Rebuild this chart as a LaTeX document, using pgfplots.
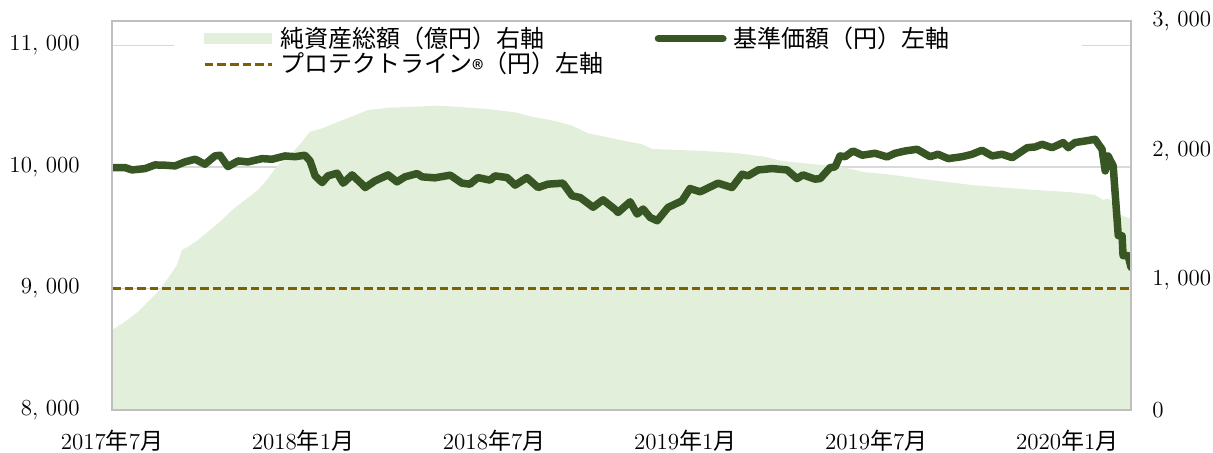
\documentclass[border=0pt]{standalone}
\usepackage{pgfplots}
\pgfplotsset{compat=1.18}
\usepackage{fontspec}
\newfontfamily\jp{Noto Sans CJK JP}
\definecolor{areacol}{HTML}{E2EFDA}
\definecolor{linecol}{HTML}{375623}
\definecolor{dashcol}{HTML}{7F6000}
\definecolor{framecol}{HTML}{BFBFBF}
\definecolor{gridcol}{HTML}{D9D9D9}
\newcommand\tickfont{\fontsize{11.5}{13}\selectfont}
\newcommand\legfont{\jp\fontsize{12}{14.5}\selectfont}
\begin{document}
\begin{tikzpicture}
\pgfplotsset{every axis/.append style={width=509.5pt,height=194.5pt,scale only axis,
  at={(0,0)},anchor=south west,xmin=0,xmax=32,
  scaled y ticks=false, scaled x ticks=false,
  major tick length=0pt, minor tick length=0pt,
  ticklabel style={font=\tickfont}}}
% axis 1: left ticks + grid
\begin{axis}[ymin=8000,ymax=11200,
  ytick={8000,9000,10000,11000},
  yticklabels={{8, 000},{9, 000},{10, 000},{11, 000}},
  ymajorgrids, grid style={gridcol,line width=0.75pt},
  xtick={0,6,12,18,24,30},
  xticklabels={{2017{\jp 年}7{\jp 月}},{2018{\jp 年}1{\jp 月}},{2018{\jp 年}7{\jp 月}},{2019{\jp 年}1{\jp 月}},{2019{\jp 年}7{\jp 月}},{2020{\jp 年}1{\jp 月}}},
  axis line style={draw=none},
  yticklabel style={inner sep=0pt,xshift=-16pt},
  xticklabel style={inner sep=0pt,yshift=-10pt}]
\end{axis}
% axis 2: right axis + area
\begin{axis}[ymin=0,ymax=3000,axis y line*=right,axis x line=none,
  ytick={0,1000,2000,3000},
  yticklabels={0,{1, 000},{2, 000},{3, 000}},
  axis line style={draw=none},
  yticklabel style={inner sep=0pt,xshift=10.5pt}]
\addplot[fill=areacol,draw=none] table {
0.00 617
0.41 681
0.82 758
1.13 835
1.44 912
1.76 1016
2.04 1118
2.20 1234
2.39 1259
2.70 1311
3.14 1401
3.45 1465
3.77 1542
4.18 1620
4.59 1697
4.90 1787
5.21 1889
5.65 1980
5.97 2069
6.22 2146
6.60 2172
7.10 2223
7.63 2273
8.04 2314
8.67 2331
10.24 2347
10.77 2339
11.81 2321
12.66 2296
13.19 2262
13.91 2229
14.45 2193
14.95 2134
15.48 2108
16.11 2075
16.65 2049
16.96 2013
18.62 1997
19.66 1980
20.51 1953
21.04 1920
21.77 1903
22.30 1889
23.02 1869
23.65 1833
24.37 1818
25.44 1781
27.01 1735
28.58 1704
30.15 1679
30.87 1658
31.12 1620
31.28 1633
31.50 1581
31.66 1504
32.00 1473
} \closedcycle;
\end{axis}
% axis 3: left scale lines, frame, legend
\begin{axis}[ymin=8000,ymax=11200,xtick=\empty,ytick=\empty,
  axis on top,
  axis line style={framecol,line width=0.75pt},
  legend columns=2,
  legend style={at={(0.0608,0.994)},anchor=north west,draw=none,fill=white,
    inner xsep=14.5pt,inner ysep=1pt,font=\legfont,
    nodes={inner ysep=0.5pt,inner xsep=3.5pt},
    /tikz/every even column/.append style={column sep=22pt},
    cells={anchor=west}}]
\addlegendimage{legend image code/.code={\fill[areacol] (0pt,-2.5pt) rectangle (33.5pt,2.5pt);}}
\addlegendentry{純資産総額（億円）右軸}
\addplot[linecol,line width=3.75pt,line cap=round,line join=round,
  legend image code/.code={\draw[linecol,line width=3.75pt,line cap=round] (1.9pt,0pt) -- (34.1pt,0pt);}] table {
0.00 9994
0.41 9994
0.63 9975
0.82 9980
1.04 9986
1.35 10016
1.66 10014
1.98 10008
2.29 10041
2.61 10063
2.92 10022
3.23 10090
3.39 10096
3.64 10002
3.96 10049
4.27 10041
4.71 10068
5.03 10063
5.43 10090
5.75 10084
6.06 10096
6.22 10049
6.38 9926
6.60 9871
6.78 9926
7.07 9948
7.26 9866
7.54 9934
7.85 9858
7.95 9830
8.26 9885
8.67 9934
8.95 9877
9.20 9918
9.58 9945
9.74 9918
10.14 9910
10.62 9932
10.99 9866
11.24 9858
11.49 9912
11.87 9891
12.03 9926
12.41 9912
12.66 9850
13.03 9912
13.38 9830
13.69 9858
14.16 9866
14.45 9762
14.70 9748
15.11 9668
15.42 9729
15.80 9650
15.89 9625
16.27 9713
16.49 9612
16.68 9653
16.90 9584
17.12 9557
17.46 9666
17.90 9721
18.15 9822
18.47 9795
19.03 9866
19.47 9830
19.79 9940
19.97 9926
20.29 9975
20.73 9986
21.20 9975
21.51 9904
21.70 9934
22.08 9899
22.24 9904
22.55 9994
22.71 10000
22.86 10090
23.02 10084
23.27 10131
23.56 10096
23.96 10112
24.34 10082
24.59 10112
24.91 10131
25.28 10145
25.69 10084
25.94 10104
26.26 10068
26.70 10084
27.01 10104
27.32 10137
27.64 10090
27.95 10104
28.27 10076
28.74 10158
28.99 10164
29.21 10186
29.52 10158
29.87 10200
30.03 10158
30.24 10200
30.56 10213
30.87 10227
31.09 10145
31.19 9967
31.28 10090
31.44 10008
31.50 9790
31.60 9434
31.72 9434
31.75 9270
31.91 9270
32.00 9174
};
\addlegendentry{基準価額（円）左軸\hspace*{48pt}}
\addplot[dashcol,line width=1.5pt,dash pattern=on 4.3pt off 2pt,
  legend image code/.code={\draw[dashcol,line width=1.5pt,dash pattern=on 4.3pt off 2pt] (0pt,0pt) -- (33.5pt,0pt);}] coordinates {(0,9000) (32,9000)};
\addlegendentry{プロテクトライン\raisebox{-0.45ex}{®}（円）左軸}
\end{axis}
\pgfresetboundingbox
\path (-56pt,-21pt) rectangle (550.5pt,205pt);
\end{tikzpicture}
\end{document}
